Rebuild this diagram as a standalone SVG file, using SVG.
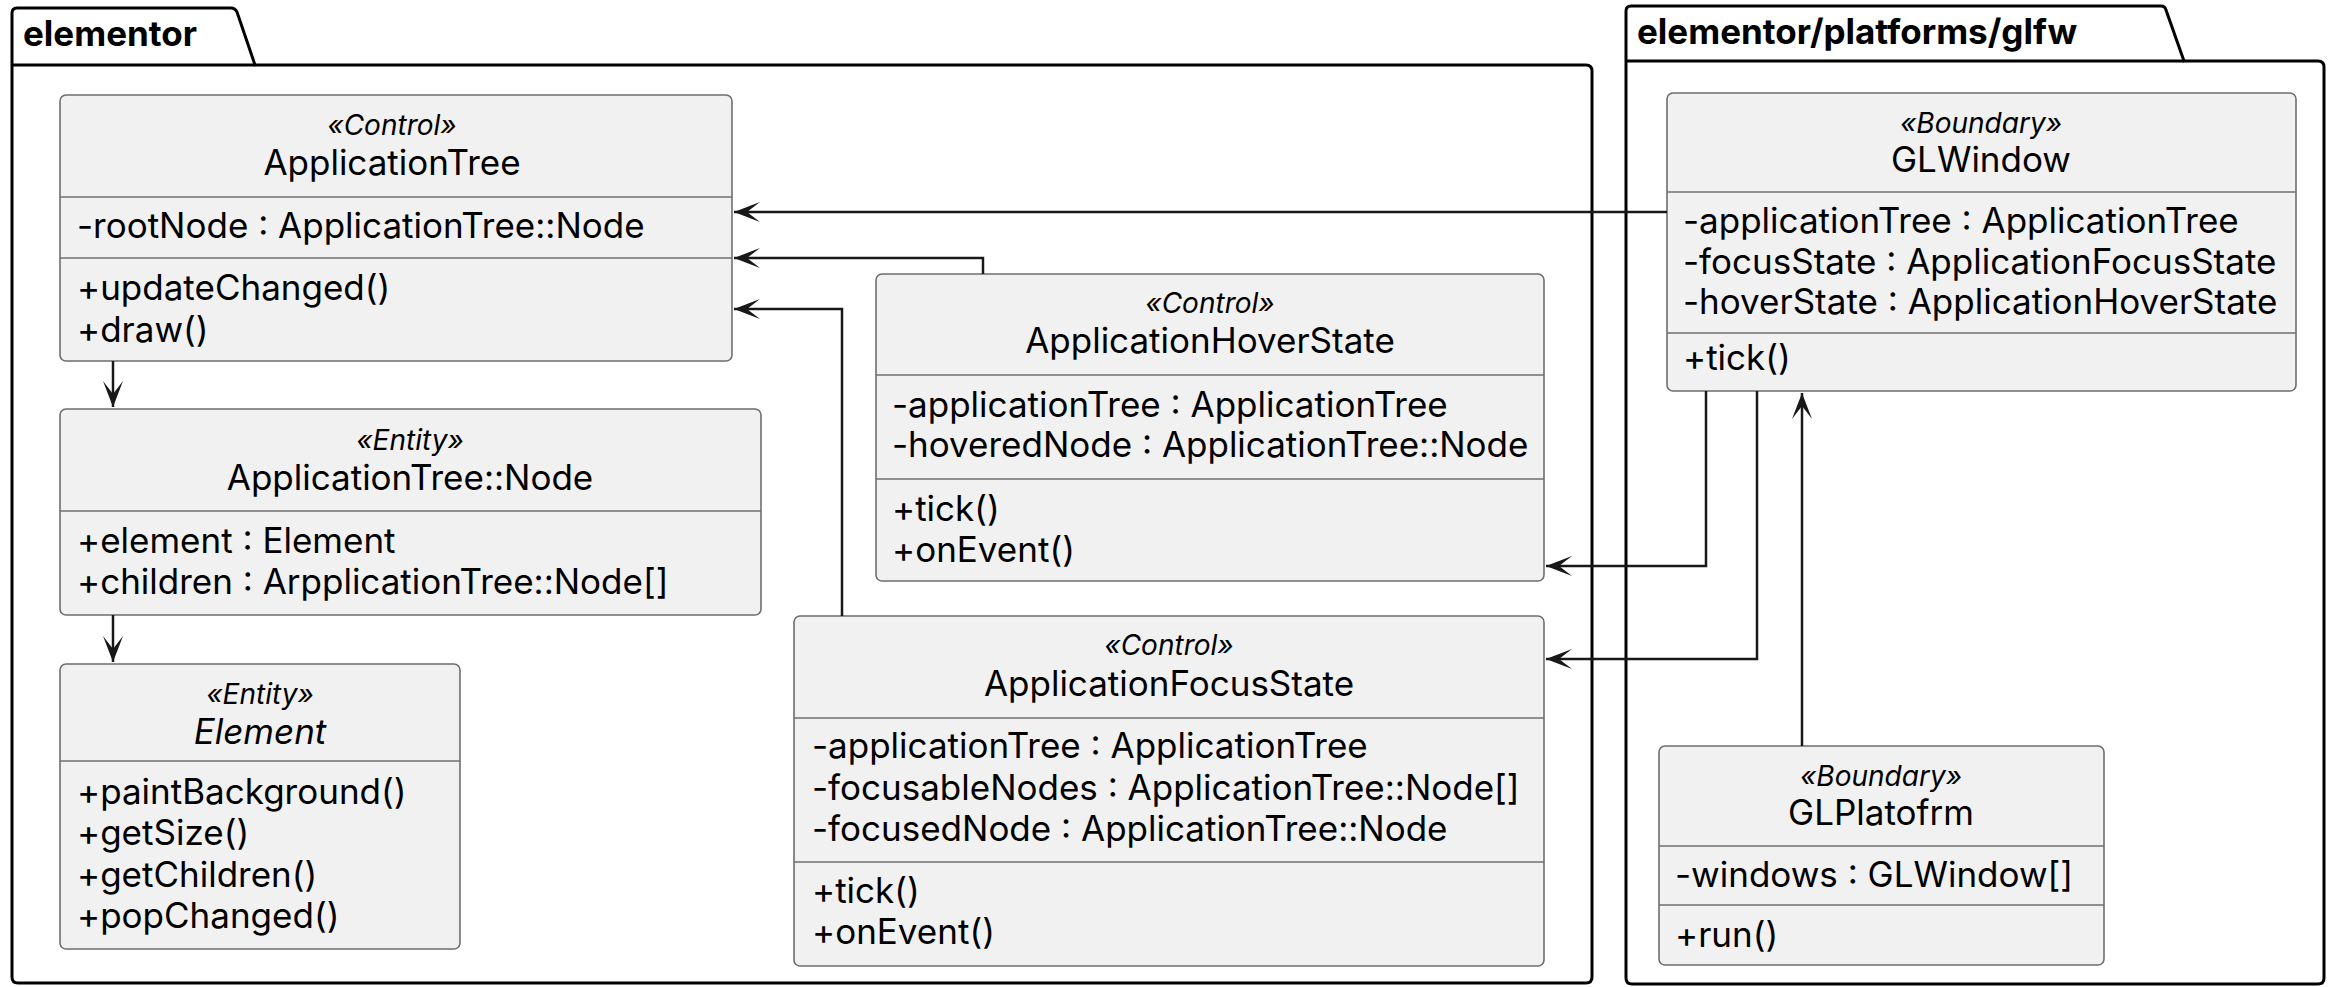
<svg xmlns="http://www.w3.org/2000/svg" width="2335" height="987" viewBox="0 0 2335 987">
<style>
.pkg{fill:none;stroke:#000;stroke-width:3}
.box{fill:#F1F1F1;stroke:#6e6e6e;stroke-width:1.6}
.sep{stroke:#6e6e6e;stroke-width:1.6}
.t{font-family:Inter,"Liberation Sans",sans-serif;font-size:35px;fill:#000}
.st{font-family:Inter,"Liberation Sans",sans-serif;font-size:28px;font-style:italic;fill:#000;text-anchor:middle}
.nm{text-anchor:middle}
.pt{font-family:Inter,"Liberation Sans",sans-serif;font-size:35px;font-weight:bold;fill:#000}
.c{fill:none;stroke:#181818;stroke-width:2.5}
</style>
<defs>
<marker id="arr" markerUnits="userSpaceOnUse" viewBox="-28 -12 30 24" refX="0" refY="0" markerWidth="30" markerHeight="24" orient="auto" overflow="visible">
<path d="M0,0 L-26,-10 L-13,0 L-26,10 Z" fill="#181818"/>
</marker>
</defs>
<g id="pkg-elementor">
<path class="pkg" d="M12,65 L12,13 Q12,8 17,8 L231,8 Q235,8 237,12 L255,65 L1586,65 Q1592,65 1592,71 L1592,977 Q1592,983 1586,983 L18,983 Q12,983 12,977 Z"/>
<line class="pkg" x1="12" y1="65" x2="255" y2="65"/>
<text class="pt" x="23" y="46">elementor</text>
</g>
<g id="pkg-glfw">
<path class="pkg" d="M1626,61 L1626,11 Q1626,6 1631,6 L2161,6 Q2165,6 2166,10 L2184,61 L2318,61 Q2324,61 2324,67 L2324,978 Q2324,984 2318,984 L1632,984 Q1626,984 1626,978 Z"/>
<line class="pkg" x1="1626" y1="61" x2="2184" y2="61"/>
<text class="pt" x="1637" y="44">elementor/platforms/glfw</text>
</g>
<g id="ApplicationTree">
<rect class="box" x="60" y="95" width="672" height="266" rx="6"/>
<line class="sep" x1="60" y1="197" x2="732" y2="197"/>
<line class="sep" x1="60" y1="258" x2="732" y2="258"/>
<text class="st" x="392" y="135">«Control»</text>
<text class="t nm" x="392" y="175">ApplicationTree</text>
<text class="t" x="77" y="238">-rootNode : ApplicationTree::Node</text>
<text class="t" x="77" y="300">+updateChanged()</text>
<text class="t" x="77" y="342">+draw()</text>
</g>
<g id="ApplicationTreeNode">
<rect class="box" x="60" y="409" width="701" height="206" rx="6"/>
<line class="sep" x1="60" y1="511" x2="761" y2="511"/>
<text class="st" x="410" y="450">«Entity»</text>
<text class="t nm" x="410" y="490">ApplicationTree::Node</text>
<text class="t" x="77" y="553">+element : Element</text>
<text class="t" x="77" y="594">+children : ArpplicationTree::Node[]</text>
</g>
<g id="Element">
<rect class="box" x="60" y="664" width="400" height="285" rx="6"/>
<line class="sep" x1="60" y1="761" x2="460" y2="761"/>
<text class="st" x="260" y="704">«Entity»</text>
<text class="t nm" x="260" y="744" font-style="italic">Element</text>
<text class="t" x="77" y="804">+paintBackground()</text>
<text class="t" x="77" y="845">+getSize()</text>
<text class="t" x="77" y="887">+getChildren()</text>
<text class="t" x="77" y="928">+popChanged()</text>
</g>
<g id="ApplicationHoverState">
<rect class="box" x="876" y="274" width="668" height="307" rx="6"/>
<line class="sep" x1="876" y1="375" x2="1544" y2="375"/>
<line class="sep" x1="876" y1="479" x2="1544" y2="479"/>
<text class="st" x="1210" y="313">«Control»</text>
<text class="t nm" x="1210" y="353">ApplicationHoverState</text>
<text class="t" x="892" y="417">-applicationTree : ApplicationTree</text>
<text class="t" x="892" y="457">-hoveredNode : ApplicationTree::Node</text>
<text class="t" x="892" y="521">+tick()</text>
<text class="t" x="892" y="562">+onEvent()</text>
</g>
<g id="ApplicationFocusState">
<rect class="box" x="794" y="616" width="750" height="350" rx="6"/>
<line class="sep" x1="794" y1="718" x2="1544" y2="718"/>
<line class="sep" x1="794" y1="862" x2="1544" y2="862"/>
<text class="st" x="1169" y="655">«Control»</text>
<text class="t nm" x="1169" y="696">ApplicationFocusState</text>
<text class="t" x="812" y="758">-applicationTree : ApplicationTree</text>
<text class="t" x="812" y="800">-focusableNodes : ApplicationTree::Node[]</text>
<text class="t" x="812" y="841">-focusedNode : ApplicationTree::Node</text>
<text class="t" x="812" y="903">+tick()</text>
<text class="t" x="812" y="944">+onEvent()</text>
</g>
<g id="GLWindow">
<rect class="box" x="1667" y="93" width="629" height="298" rx="6"/>
<line class="sep" x1="1667" y1="192" x2="2296" y2="192"/>
<line class="sep" x1="1667" y1="333" x2="2296" y2="333"/>
<text class="st" x="1981" y="133">«Boundary»</text>
<text class="t nm" x="1981" y="172">GLWindow</text>
<text class="t" x="1683" y="233">-applicationTree : ApplicationTree</text>
<text class="t" x="1683" y="274">-focusState : ApplicationFocusState</text>
<text class="t" x="1683" y="314">-hoverState : ApplicationHoverState</text>
<text class="t" x="1683" y="370">+tick()</text>
</g>
<g id="GLPlatofrm">
<rect class="box" x="1659" y="746" width="445" height="219" rx="6"/>
<line class="sep" x1="1659" y1="846" x2="2104" y2="846"/>
<line class="sep" x1="1659" y1="905" x2="2104" y2="905"/>
<text class="st" x="1881" y="786">«Boundary»</text>
<text class="t nm" x="1881" y="825">GLPlatofrm</text>
<text class="t" x="1675" y="887">-windows : GLWindow[]</text>
<text class="t" x="1675" y="947">+run()</text>
</g>
<g id="connectors">
<path class="c" marker-end="url(#arr)" d="M1667,212 L734,212"/>
<path class="c" marker-end="url(#arr)" d="M983,274 L983,258 L734,258"/>
<path class="c" marker-end="url(#arr)" d="M842,616 L842,309 L734,309"/>
<path class="c" marker-end="url(#arr)" d="M1706,391 L1706,566 L1546,566"/>
<path class="c" marker-end="url(#arr)" d="M1757,391 L1757,659 L1546,659"/>
<path class="c" marker-end="url(#arr)" d="M1802,746 L1802,393"/>
<path class="c" marker-end="url(#arr)" d="M113,361 L113,407"/>
<path class="c" marker-end="url(#arr)" d="M113,615 L113,662"/>
</g>
</svg>
